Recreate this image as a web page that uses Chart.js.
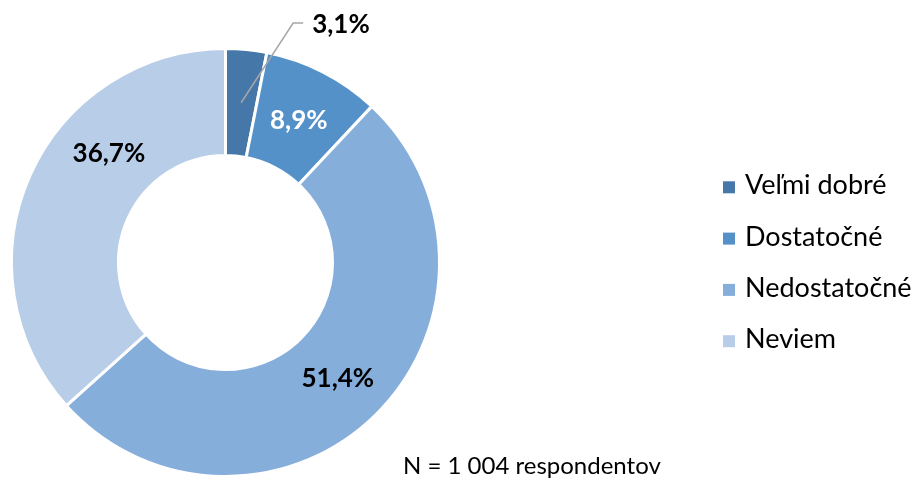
<!DOCTYPE html>
<html><head><meta charset="utf-8">
<script src="https://cdn.jsdelivr.net/npm/chart.js@4.4.1/dist/chart.umd.min.js"></script>
<style>
html,body{margin:0;padding:0;background:#fff;overflow:hidden}
#wrap{position:relative;width:915px;height:479px}
canvas{display:block}
</style></head><body>
<div id="wrap"><canvas id="c" width="915" height="479"></canvas></div>
<script>
// ---- data ----
const categories = ['Veľmi dobré', 'Dostatočné', 'Nedostatočné', 'Neviem'];
const values = [3.1, 8.9, 51.4, 36.7];
const noteText = 'N = 1 004 respondentov';

// ---- styles ----
const sliceColors = ['#4677A9', '#5591C9', '#85AEDB', '#B8CDE8'];
const labelColors = ['#000000', '#FFFFFF', '#000000', '#000000'];
const labelAlong = [0.5, 0.5, 0.5, 0.647];   // fraction along each slice's arc
const labelOutside = [true, false, false, false];

function fmt(v) { return v.toFixed(1).replace('.', ',') + '%'; }

const labelPlugin = {
  id: 'labels',
  afterDatasetsDraw(chart) {
    const ctx = chart.ctx;
    const meta = chart.getDatasetMeta(0);
    ctx.save();
    meta.data.forEach((arc, i) => {
      const p = arc.getProps(['x', 'y', 'startAngle', 'endAngle', 'innerRadius', 'outerRadius']);
      const a = p.startAngle + (p.endAngle - p.startAngle) * labelAlong[i];
      const rMid = (p.innerRadius + p.outerRadius) / 2;
      const txt = fmt(values[i]);
      ctx.font = 'bold 26px Lato';
      ctx.fillStyle = labelColors[i];
      if (labelOutside[i]) {
        const sx = p.x + Math.cos(a) * rMid, sy = p.y + Math.sin(a) * rMid;
        const ea = a + 10.2 * Math.PI / 180;
        const er = p.outerRadius * 1.163;
        const ex = p.x + Math.cos(ea) * er, ey = p.y + Math.sin(ea) * er;
        ctx.strokeStyle = '#A6A6A6';
        ctx.lineWidth = 1.5;
        ctx.beginPath();
        ctx.moveTo(sx, sy);
        ctx.lineTo(ex, ey);
        ctx.lineTo(ex + 10, ey);
        ctx.stroke();
        ctx.textAlign = 'left';
        ctx.textBaseline = 'middle';
        ctx.fillText(txt, ex + 19, ey + 1.5);
      } else {
        const x = p.x + Math.cos(a) * rMid, y = p.y + Math.sin(a) * rMid;
        ctx.textAlign = 'center';
        ctx.textBaseline = 'middle';
        ctx.fillText(txt, x, y + 1);
      }
    });
    // legend
    ctx.font = '27px Lato';
    ctx.textAlign = 'left';
    ctx.textBaseline = 'alphabetic';
    categories.forEach((c, i) => {
      const base = 194.3 + i * 51.3;
      ctx.fillStyle = sliceColors[i];
      ctx.fillRect(723, base - 13, 12, 12);
      ctx.fillStyle = '#000';
      ctx.fillText(c, 745, base);
    });
    // note
    ctx.font = '24px Lato';
    ctx.fillStyle = '#000';
    ctx.fillText(noteText, 403, 474);
    ctx.restore();
  }
};

new Chart(document.getElementById('c'), {
  type: 'doughnut',
  data: {
    labels: categories,
    datasets: [{
      data: values,
      backgroundColor: sliceColors,
      borderColor: '#FFFFFF',
      borderWidth: 3,
      hoverOffset: 0,
      offset: 0
    }]
  },
  options: {
    responsive: false,
    animation: false,
    cutout: '50%',
    layout: { padding: { left: 10, top: 47, right: 474, bottom: 1 } },
    plugins: { legend: { display: false }, tooltip: { enabled: false } },
    events: []
  },
  plugins: [labelPlugin]
});
</script>
</body></html>
